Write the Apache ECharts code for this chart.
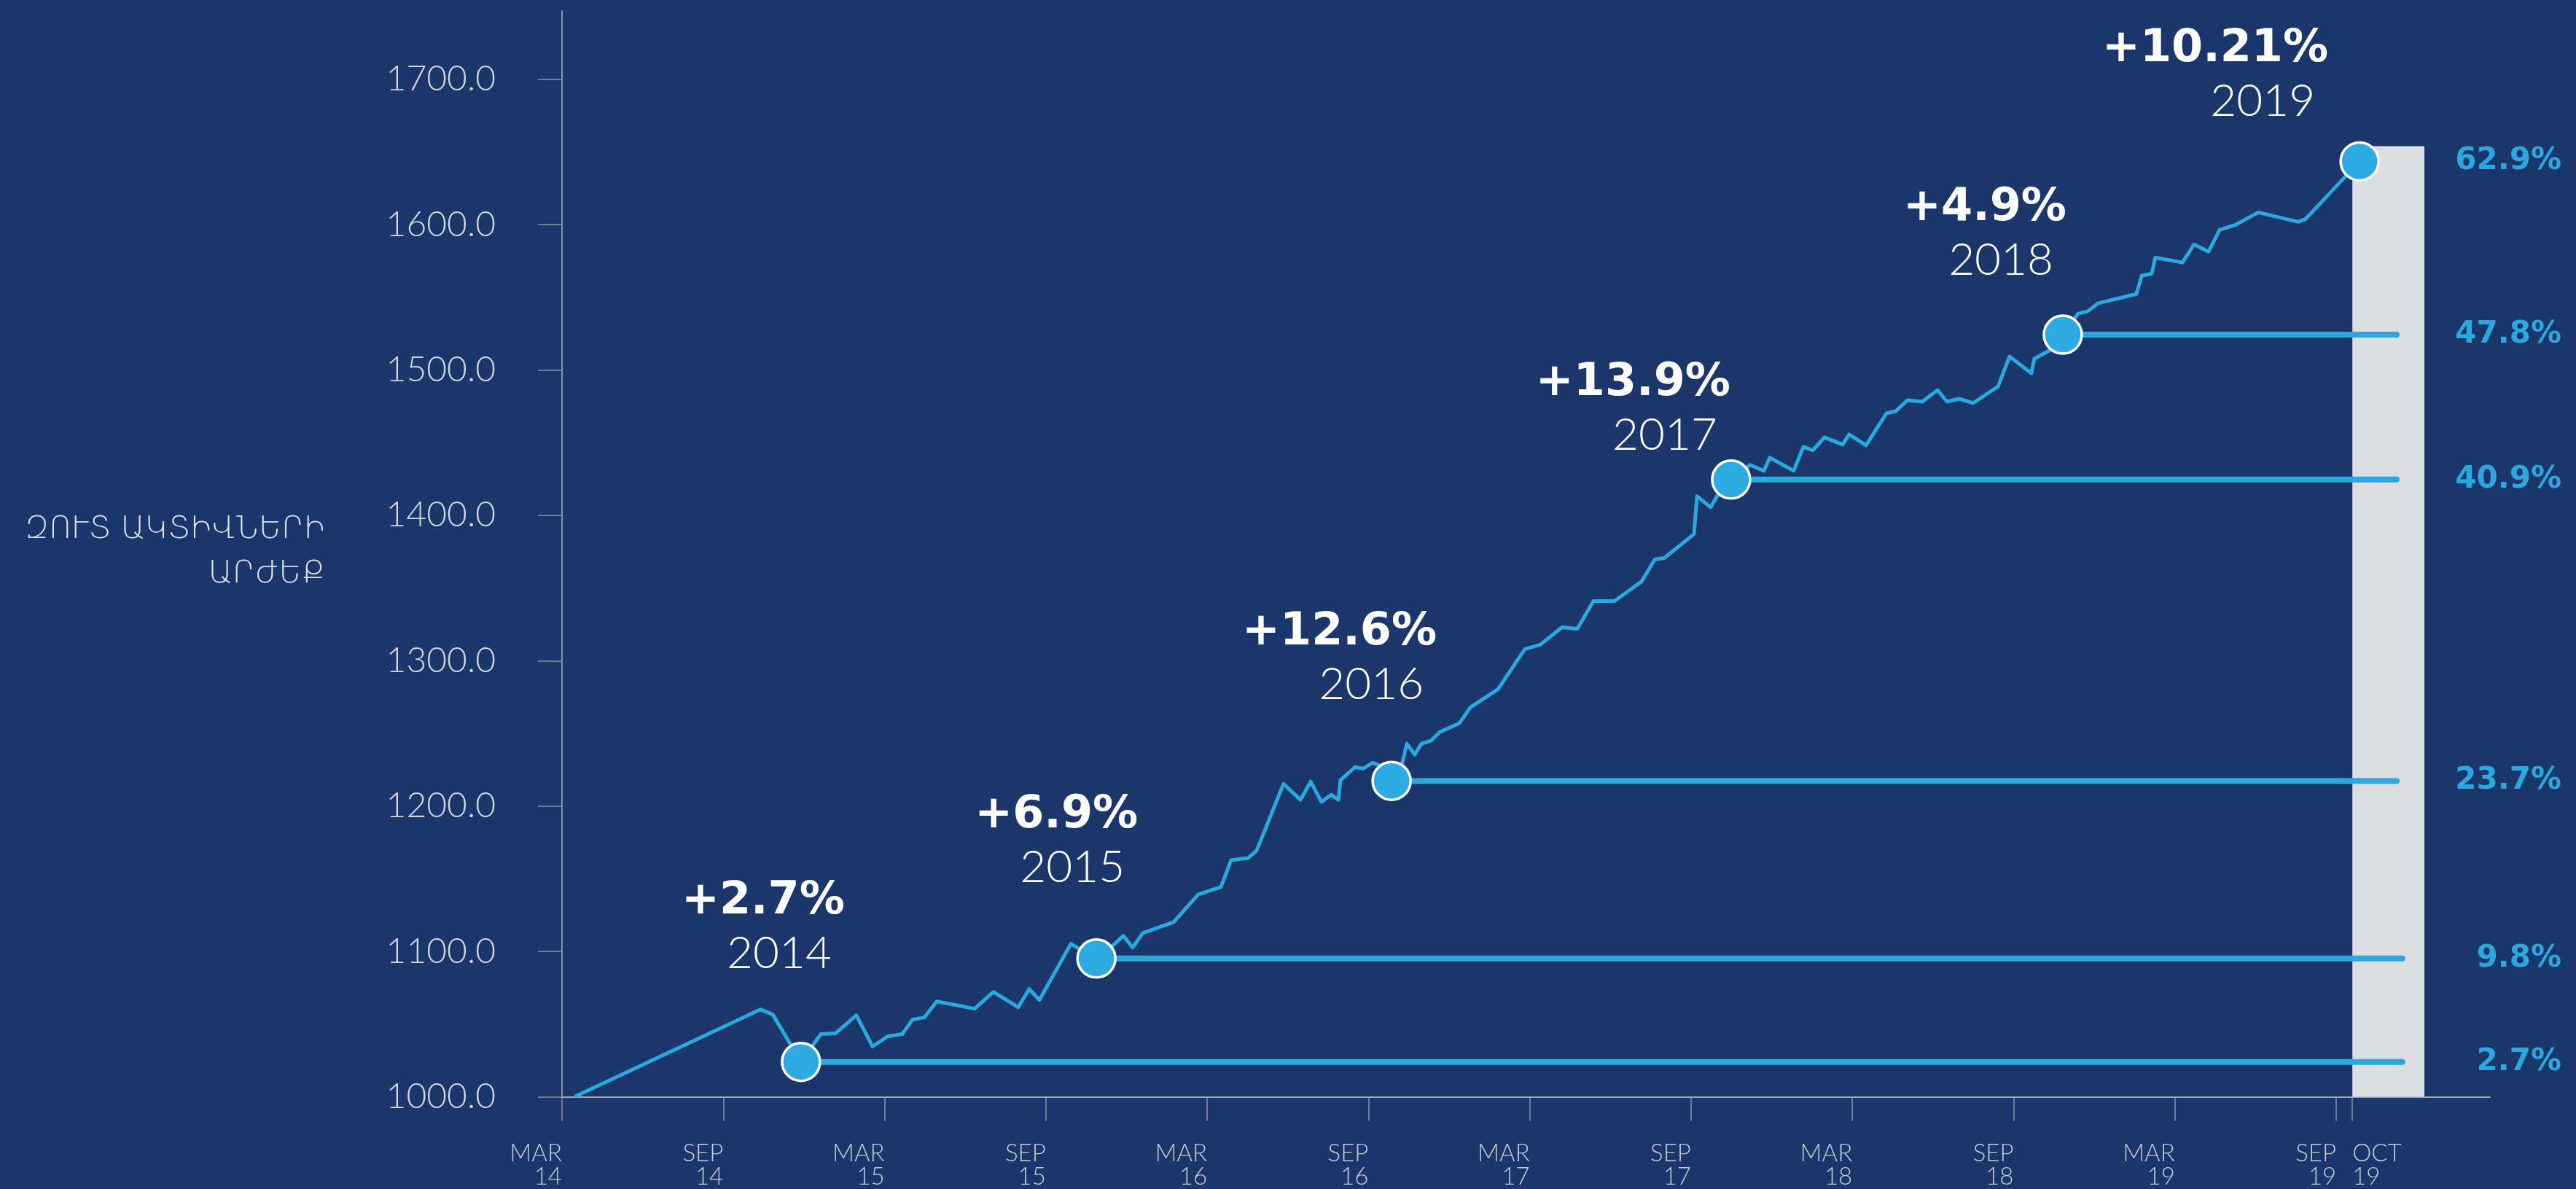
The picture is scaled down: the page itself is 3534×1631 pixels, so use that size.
<!DOCTYPE html>
<html>
<head>
<meta charset="utf-8">
<script src="https://cdn.jsdelivr.net/npm/echarts@6/dist/echarts.min.js"></script>
<style>
  html, body { margin: 0; padding: 0; background: #1a366b; }
  #chart { width: 3534px; height: 1631px; }
</style>
</head>
<body>
<div id="chart"></div>
<script>
// x values are months counted from MAR 2014
const navMonths = [0.52, 7.38, 7.84, 8.89, 9.63, 10.17, 10.95, 11.55, 12.12, 12.66, 13.04, 13.48, 13.94,
  15.35, 16.05, 16.97, 17.38, 17.76, 18.93, 19.33, 19.88, 20.5, 20.88, 21.23, 21.61, 22.75, 23.67,
  24.51, 24.89, 25.52, 25.84, 26.84, 27.47, 27.85, 28.25, 28.61, 28.88, 28.96, 29.5, 29.8, 30.15,
  30.45, 30.86, 31.24, 31.43, 31.72, 31.97, 32.32, 32.65, 33.38, 33.79, 34.82, 35.82, 36.39, 37.2,
  37.77, 38.37, 39.15, 40.16, 40.65, 41.0, 42.11, 42.22, 42.73, 42.98, 43.49, 44.2, 44.71, 44.93,
  45.82, 46.18, 46.53, 46.96, 47.64, 47.88, 48.51, 49.27, 49.62, 50.05, 50.6, 51.17, 51.52, 51.98,
  52.49, 53.42, 53.85, 54.66, 54.77, 55.37, 55.83, 56.4, 56.75, 57.13, 58.57, 58.76, 59.14, 59.27,
  60.28, 60.71, 61.25, 61.66, 62.26, 63.1, 64.59, 64.86, 66.87]
const navValues = [1000.5, 1060.1, 1056.6, 1024.0, 1043.1, 1043.6, 1056.1, 1034.6, 1041.6, 1043.1, 1053.1, 1054.6, 1065.6,
  1060.6, 1072.1, 1061.6, 1074.1, 1066.6, 1105.2, 1100.7, 1095.1, 1104.2, 1110.7, 1102.7, 1112.7, 1120.2, 1139.2,
  1144.2, 1162.7, 1164.2, 1169.3, 1215.3, 1204.3, 1216.8, 1202.8, 1207.8, 1204.3, 1217.8, 1226.8, 1225.8, 1229.8,
  1227.8, 1217.3, 1228.3, 1242.9, 1235.4, 1242.9, 1244.9, 1250.9, 1256.9, 1267.9, 1280.4, 1308.0, 1311.0, 1323.0,
  1322.0, 1341.0, 1341.0, 1354.5, 1369.6, 1370.6, 1387.1, 1413.1, 1405.6, 1413.6, 1424.6, 1434.7, 1430.6, 1439.7,
  1430.6, 1447.2, 1444.7, 1453.7, 1448.7, 1455.7, 1448.2, 1470.2, 1471.7, 1479.2, 1478.2, 1486.2, 1478.2, 1480.2,
  1477.2, 1488.7, 1509.3, 1497.7, 1507.8, 1513.8, 1524.3, 1538.8, 1540.3, 1545.8, 1552.3, 1564.8, 1566.3, 1577.4,
  1573.9, 1586.4, 1581.4, 1596.4, 1599.9, 1608.4, 1601.9, 1603.9, 1643.5]

const years = ['2014', '2015', '2016', '2017', '2018', '2019']
const yearGrowth = ['+2.7%', '+6.9%', '+12.6%', '+13.9%', '+4.9%', '+10.21%']
const markerMonths = [8.89, 19.88, 30.86, 43.49, 55.83, 66.87]
const markerValues = [1024.0, 1095.1, 1217.3, 1424.6, 1524.3, 1643.5]
const totalGrowth = ['2.7%', '9.8%', '23.7%', '40.9%', '47.8%', '62.9%']
const levelEnds = [68.46, 68.46, 68.25, 68.25, 68.25]

const tickMonths = [0, 6, 12, 18, 24, 30, 36, 42, 48, 54, 60, 66]
const tickLabels = ['MAR\n14', 'SEP\n14', 'MAR\n15', 'SEP\n15', 'MAR\n16', 'SEP\n16',
  'MAR\n17', 'SEP\n17', 'MAR\n18', 'SEP\n18', 'MAR\n19', 'SEP\n19']
const octMonth = 66.6
const octLabel = 'OCT\n19'
const yTicks = [1000, 1100, 1200, 1300, 1400, 1500, 1600, 1700]
const barFrom = 66.6
const barTo = 69.28
const barTop = 1654

// label placement next to each marker (px)
const labelShift = [[60, -113], [57, -89], [62, -97], [-1, -25], [5, -67], [-43, -47]]

const blue = '#2aa9e1'
const chart = echarts.init(document.getElementById('chart'))

const levelSeries = levelEnds.map((end, i) => ({
  type: 'line',
  z: 2,
  symbol: 'none',
  silent: true,
  lineStyle: { color: blue, width: 8, cap: 'round' },
  data: [[markerMonths[i], markerValues[i]], [end, markerValues[i]]],
}))

const tickStyle = { color: '#8d94a3', width: 1.5 }
const monthLabel = {
  margin: 62,
  fontFamily: 'Lato',
  fontWeight: 300,
  fontSize: 33,
  lineHeight: 32,
  color: '#c6cad3',
}

const options = {
  backgroundColor: '#1a366b',
  animation: false,
  grid: { left: 771, right: 118, top: 15, bottom: 123 },
  graphic: [{
    type: 'text',
    x: 446,
    y: 697,
    style: {
      text: 'ԶՈՒՏ ԱԿՏԻՎՆԵՐԻ\nԱՐԺԵՔ',
      align: 'right',
      verticalAlign: 'top',
      fontFamily: 'DejaVu Sans',
      fontWeight: 300,
      fontSize: 42,
      lineHeight: 61,
      fill: '#dfe2e9',
    },
  }],
  xAxis: [
    {
      type: 'value',
      min: 0,
      max: 71.72,
      position: 'bottom',
      axisLine: { lineStyle: { color: '#9ea4b0', width: 2 } },
      axisTick: { show: true, customValues: tickMonths, length: 33, lineStyle: tickStyle },
      splitLine: { show: false },
      axisLabel: {
        ...monthLabel,
        customValues: tickMonths,
        formatter: (v) => tickLabels[tickMonths.indexOf(v)] || '',
        align: 'right',
      },
    },
    {
      type: 'value',
      min: 0,
      max: 71.72,
      position: 'bottom',
      axisLine: { show: false },
      axisTick: { show: true, customValues: [octMonth], length: 33, lineStyle: tickStyle },
      splitLine: { show: false },
      axisLabel: {
        ...monthLabel,
        customValues: [octMonth],
        formatter: () => octLabel,
        align: 'left',
      },
    },
  ],
  yAxis: [
    {
      type: 'value',
      min: 1000,
      max: 1747,
      axisLine: { show: true, lineStyle: { color: '#8d94a3', width: 2 } },
      axisTick: { show: true, customValues: yTicks, length: 33, lineStyle: tickStyle },
      splitLine: { show: false },
      axisLabel: {
        customValues: yTicks,
        formatter: (v) => v.toFixed(1),
        margin: 91,
        fontFamily: 'Lato',
        fontWeight: 300,
        fontSize: 48,
        color: '#d3d6dd',
      },
    },
    {
      type: 'value',
      min: 1000,
      max: 1747,
      position: 'right',
      axisLine: { show: false },
      axisTick: { show: false },
      splitLine: { show: false },
      axisLabel: {
        customValues: markerValues,
        formatter: (v) => totalGrowth[markerValues.indexOf(v)] || '',
        align: 'right',
        margin: 98,
        fontFamily: 'DejaVu Sans',
        fontWeight: 'bold',
        fontSize: 42,
        color: blue,
      },
    },
  ],
  series: [
    {
      type: 'line',
      z: 1,
      data: [],
      silent: true,
      markArea: {
        silent: true,
        itemStyle: { color: '#dcdde0' },
        data: [[{ coord: [barFrom, 1000] }, { coord: [barTo, barTop] }]],
      },
    },
    {
      type: 'line',
      z: 3,
      symbol: 'none',
      smooth: false,
      lineStyle: { color: blue, width: 5, join: 'round', cap: 'round' },
      data: navMonths.map((m, i) => [m, navValues[i]]),
    },
    ...levelSeries,
    {
      type: 'scatter',
      z: 4,
      symbol: 'circle',
      symbolSize: 52,
      itemStyle: { color: '#2eaae3', opacity: 1, borderColor: '#ffffff', borderWidth: 3.5 },
      label: {
        show: true,
        position: 'inside',
        align: 'right',
        verticalAlign: 'bottom',
        formatter: (p) => `{p|${yearGrowth[p.dataIndex]}}\n{y|${years[p.dataIndex]}}`,
        rich: {
          p: { fontFamily: 'DejaVu Sans', fontWeight: 'bold', fontSize: 62, color: '#ffffff', lineHeight: 71, align: 'right' },
          y: { fontFamily: 'Lato', fontWeight: 300, fontSize: 62, color: '#ffffff', lineHeight: 71, align: 'right', padding: [0, 18, 0, 0] },
        },
      },
      data: markerMonths.map((m, i) => ({
        value: [m, markerValues[i]],
        label: { offset: labelShift[i] },
      })),
    },
  ],
}
chart.setOption(options, true)
</script>
</body>
</html>
